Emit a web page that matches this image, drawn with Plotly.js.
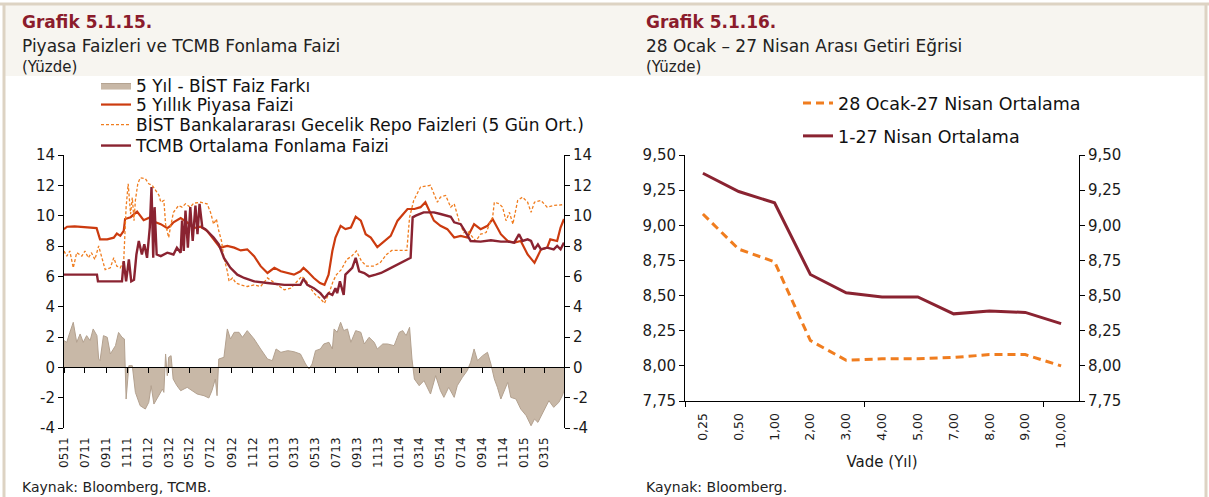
<!DOCTYPE html>
<html><head><meta charset="utf-8">
<script src="https://cdn.plot.ly/plotly-3.0.1.min.js"></script>
<style>html,body{margin:0;padding:0;background:#fff}#chart{width:1209px;height:497px}</style>
</head><body><div id="chart"></div>
<script>
// ---------- Grafik 5.1.15 data ----------
const spreadName = '5 Yıl - BİST Faiz Farkı';
const spreadDates = ['2011-05-01','2011-05-09','2011-05-18','2011-05-28','2011-06-07','2011-06-17','2011-06-26','2011-07-06','2011-07-16','2011-07-25','2011-08-05','2011-08-10','2011-08-14','2011-08-24','2011-09-04','2011-09-13','2011-09-28','2011-10-07','2011-10-17','2011-10-24','2011-10-29','2011-11-06','2011-11-16','2011-11-25','2011-12-09','2011-12-24','2012-01-03','2012-01-10','2012-01-18','2012-02-02','2012-02-12','2012-02-16','2012-02-21','2012-02-26','2012-03-01','2012-03-08','2012-03-14','2012-03-25','2012-04-05','2012-04-24','2012-05-08','2012-05-23','2012-06-12','2012-06-26','2012-07-05','2012-07-15','2012-07-20','2012-07-25','2012-08-09','2012-08-19','2012-08-28','2012-09-08','2012-09-22','2012-10-02','2012-10-16','2012-11-05','2012-11-24','2012-12-14','2012-12-28','2013-01-08','2013-01-22','2013-02-11','2013-03-01','2013-03-20','2013-04-04','2013-04-14','2013-04-23','2013-05-03','2013-05-17','2013-05-27','2013-06-11','2013-06-21','2013-06-26','2013-07-05','2013-07-15','2013-07-24','2013-08-04','2013-08-14','2013-08-28','2013-09-12','2013-09-22','2013-10-06','2013-10-21','2013-10-30','2013-11-15','2013-11-29','2013-12-18','2014-01-02','2014-01-12','2014-01-22','2014-02-01','2014-02-08','2014-02-15','2014-03-01','2014-03-15','2014-04-03','2014-04-18','2014-05-02','2014-05-12','2014-05-26','2014-06-11','2014-06-20','2014-07-05','2014-07-19','2014-07-29','2014-08-08','2014-08-18','2014-09-02','2014-09-16','2014-09-26','2014-10-06','2014-10-15','2014-10-25','2014-11-04','2014-11-14','2014-11-23','2014-12-08','2014-12-22','2015-01-07','2015-01-21','2015-01-31','2015-02-10','2015-02-24','2015-03-14','2015-03-28','2015-04-12','2015-04-22','2015-04-29'];
const spreadValues = [1.76,1.65,2.30,2.97,1.65,2.20,1.65,2.09,1.76,2.53,2.09,0.55,0.44,2.09,1.98,0.88,1.43,2.30,1.98,1.87,-2.09,0.11,0.11,-1.65,-2.53,-2.75,-2.31,-1.21,-2.42,-1.87,-1.43,-1.65,0.88,-0.55,0.66,0.77,-0.77,-1.21,-1.54,-1.32,-1.54,-1.76,-1.87,-2.02,-1.54,-0.77,-1.87,0.55,0.66,2.53,1.87,2.31,2.31,1.98,2.42,1.87,1.21,0.55,0.44,1.21,0.99,1.10,1.03,0.88,0.22,-0.11,0.22,1.10,1.21,1.54,1.65,1.21,2.53,2.31,2.97,2.42,2.53,1.65,2.42,2.31,1.54,1.98,1.65,1.21,1.54,1.54,1.43,2.31,2.42,2.09,2.64,0.55,-0.77,-1.21,-0.88,-1.76,-0.55,-1.54,-1.98,-1.32,-1.98,-1.21,-0.66,-0.22,0.33,1.21,0.44,0.77,0.99,0.22,-0.77,-1.32,-2.09,-1.54,-0.99,-1.98,-2.09,-2.75,-3.19,-3.85,-3.41,-3.63,-2.97,-2.20,-2.64,-2.31,-1.87,-1.43];

const yield5Name = '5 Yıllık Piyasa Faizi';
const yield5Dates = ['2011-05-01','2011-05-10','2011-06-01','2011-07-01','2011-08-04','2011-08-14','2011-09-04','2011-09-23','2011-10-02','2011-10-12','2011-10-22','2011-10-26','2011-11-11','2011-11-30','2011-12-09','2011-12-19','2012-01-08','2012-01-23','2012-02-07','2012-02-26','2012-03-06','2012-03-15','2012-04-05','2012-04-24','2012-05-13','2012-06-02','2012-06-21','2012-07-10','2012-07-29','2012-08-19','2012-09-08','2012-09-27','2012-10-16','2012-11-05','2012-11-24','2012-12-14','2013-01-03','2013-01-22','2013-02-11','2013-03-01','2013-03-20','2013-03-29','2013-04-09','2013-04-28','2013-05-16','2013-05-29','2013-06-10','2013-06-21','2013-06-30','2013-07-15','2013-07-29','2013-08-14','2013-08-28','2013-09-12','2013-09-26','2013-10-11','2013-10-30','2013-11-19','2013-12-08','2013-12-28','2014-01-12','2014-01-26','2014-02-15','2014-03-05','2014-03-19','2014-03-29','2014-04-13','2014-05-02','2014-05-22','2014-06-11','2014-06-30','2014-07-19','2014-08-08','2014-08-27','2014-09-16','2014-10-01','2014-10-25','2014-11-14','2014-12-03','2014-12-22','2015-01-11','2015-01-31','2015-02-10','2015-02-19','2015-03-09','2015-03-18','2015-04-07','2015-04-17','2015-04-27'];
const yield5Values = [9.11,9.27,9.30,9.25,9.18,8.44,8.44,8.55,8.82,8.67,9.00,9.78,9.90,10.27,10.00,9.70,9.90,9.56,9.44,9.18,9.33,9.56,9.84,9.56,9.18,9.27,9.00,8.44,7.89,8.00,7.89,7.71,7.78,7.33,6.67,6.22,6.56,6.33,6.22,6.11,6.33,6.56,6.33,5.89,5.56,5.44,6.11,7.67,8.56,9.33,9.11,9.22,9.93,9.67,8.78,8.56,7.93,8.33,8.67,9.67,10.11,10.44,10.44,10.56,10.89,10.44,9.67,9.33,9.11,8.56,8.67,8.56,9.44,9.11,9.33,9.78,8.78,8.33,8.22,8.33,7.44,6.89,7.33,7.78,7.89,8.44,8.33,9.22,9.78];

const bistName = 'BİST Bankalararası Gecelik Repo Faizleri (5 Gün Ort.)';
const bistDates = ['2011-05-01','2011-05-09','2011-05-18','2011-05-28','2011-06-07','2011-06-22','2011-07-01','2011-07-11','2011-07-20','2011-07-30','2011-08-10','2011-08-19','2011-08-29','2011-09-13','2011-09-23','2011-10-02','2011-10-12','2011-10-22','2011-10-29','2011-11-04','2011-11-11','2011-11-16','2011-11-21','2011-11-25','2011-12-02','2011-12-09','2011-12-24','2012-01-03','2012-01-13','2012-01-23','2012-02-02','2012-02-07','2012-02-16','2012-02-21','2012-03-01','2012-03-06','2012-03-15','2012-03-30','2012-04-09','2012-04-19','2012-05-03','2012-05-13','2012-06-02','2012-06-21','2012-07-01','2012-07-10','2012-07-18','2012-07-25','2012-08-02','2012-08-09','2012-08-19','2012-08-24','2012-09-03','2012-09-13','2012-09-27','2012-10-16','2012-11-05','2012-11-24','2012-12-14','2012-12-28','2013-01-12','2013-02-01','2013-02-20','2013-03-10','2013-03-24','2013-04-04','2013-04-18','2013-05-03','2013-05-16','2013-05-29','2013-06-13','2013-06-23','2013-07-03','2013-07-17','2013-08-02','2013-08-16','2013-08-30','2013-09-14','2013-09-29','2013-10-18','2013-11-07','2013-11-26','2013-12-11','2014-01-05','2014-01-24','2014-02-01','2014-02-13','2014-03-05','2014-04-03','2014-04-13','2014-04-23','2014-05-02','2014-05-17','2014-06-01','2014-06-11','2014-06-25','2014-07-09','2014-07-19','2014-08-03','2014-08-13','2014-08-27','2014-09-12','2014-09-26','2014-10-01','2014-10-06','2014-10-20','2014-10-30','2014-11-09','2014-11-19','2014-11-29','2014-12-13','2014-12-27','2015-01-11','2015-01-21','2015-01-31','2015-02-19','2015-03-09','2015-03-28','2015-04-27'];
const bistValues = [7.67,7.33,7.67,6.56,7.56,7.33,7.67,7.22,7.56,7.11,8.00,7.33,6.44,6.56,7.22,6.67,6.56,7.00,10.56,12.10,10.10,11.20,9.67,11.00,12.10,12.50,12.44,12.10,12.00,11.67,11.33,10.89,11.00,9.44,8.56,9.22,10.22,10.67,10.56,10.78,10.56,10.82,10.89,10.78,10.22,9.44,9.78,9.00,8.33,7.22,6.33,5.67,5.89,5.56,5.44,5.33,5.44,5.33,5.89,5.67,5.44,5.11,5.22,5.67,6.00,5.78,5.22,4.78,4.56,4.22,5.00,5.67,6.11,6.44,7.11,7.33,7.67,7.00,6.67,6.67,6.89,7.44,7.71,7.71,7.71,9.89,11.00,11.89,12.00,11.44,10.89,11.22,11.33,10.56,10.78,9.67,8.89,9.00,8.56,8.33,8.78,8.89,9.67,9.89,10.89,10.78,10.56,9.67,10.22,9.44,11.00,11.22,10.89,10.22,10.89,11.00,10.56,10.67,10.73];

const tcmbName = 'TCMB Ortalama Fonlama Faizi';
const tcmbDates = ['2011-05-01','2011-08-05','2011-08-08','2011-10-17','2011-10-22','2011-10-29','2011-11-06','2011-11-13','2011-11-21','2011-11-28','2011-12-05','2011-12-14','2011-12-21','2011-12-29','2012-01-06','2012-01-11','2012-01-16','2012-01-20','2012-01-26','2012-02-07','2012-02-26','2012-03-15','2012-03-25','2012-04-05','2012-04-09','2012-04-14','2012-04-19','2012-04-26','2012-05-03','2012-05-10','2012-05-18','2012-05-24','2012-05-30','2012-06-07','2012-06-16','2012-06-26','2012-07-10','2012-07-25','2012-08-09','2012-08-28','2012-09-17','2012-10-07','2012-11-05','2012-12-14','2013-02-01','2013-03-20','2013-03-29','2013-04-09','2013-04-28','2013-05-17','2013-05-29','2013-06-10','2013-06-21','2013-06-30','2013-07-05','2013-07-13','2013-07-19','2013-07-24','2013-07-29','2013-08-09','2013-08-18','2013-08-28','2013-09-07','2013-09-22','2013-10-06','2013-10-25','2013-11-10','2013-11-29','2013-12-18','2014-01-07','2014-01-26','2014-02-04','2014-02-10','2014-02-19','2014-03-14','2014-04-13','2014-05-02','2014-05-22','2014-06-01','2014-06-11','2014-06-30','2014-07-19','2014-07-29','2014-08-27','2014-09-26','2014-10-25','2014-11-14','2014-12-03','2014-12-17','2014-12-27','2015-01-11','2015-01-21','2015-01-31','2015-02-10','2015-02-19','2015-03-09','2015-03-28','2015-04-07','2015-04-17','2015-04-27'];
const tcmbValues = [6.11,6.11,5.67,5.67,7.00,5.67,7.11,5.67,5.78,7.44,8.33,7.44,8.11,7.22,9.22,11.89,7.22,10.56,7.44,7.33,7.56,7.44,7.89,7.56,9.67,7.67,10.33,7.89,10.56,8.33,10.67,8.78,10.78,9.22,9.11,8.89,8.56,8.11,7.22,6.56,6.11,5.89,5.67,5.56,5.44,5.44,5.84,5.44,5.22,4.89,4.56,4.89,4.78,5.22,4.89,5.67,5.11,4.78,6.11,6.33,6.56,7.22,6.33,6.22,6.00,6.11,6.22,6.44,6.67,6.89,7.11,7.22,9.89,10.00,10.22,10.22,10.11,10.00,9.93,9.56,9.44,8.73,8.33,8.29,8.38,8.29,8.29,8.22,8.78,8.33,8.44,8.33,7.78,8.11,7.78,7.89,7.78,8.00,7.78,8.22];

const leftTickVals = [-4,-2,0,2,4,6,8,10,12,14];
const leftTickText = ['-4','-2','0','2','4','6','8','10','12','14'];

// ---------- Grafik 5.1.16 data ----------
const maturities = ['0,25','0,50','1,00','2,00','3,00','4,00','5,00','7,00','8,00','9,00','10,00'];
const avgJanAprName = '28 Ocak-27 Nisan Ortalama';
const avgJanApr = [9.08,8.83,8.74,8.18,8.04,8.05,8.05,8.06,8.08,8.08,8.00];
const avgAprName = '1-27 Nisan Ortalama';
const avgApr = [9.37,9.24,9.16,8.65,8.52,8.49,8.49,8.37,8.39,8.38,8.30];
// tick marks every 5 categories, on the category boundaries (category-index units)
const maturityTickMarks = [-0.5, 4.5, 9.5];

// ---------- layout helpers ----------
const W = 1209, H = 497;
const px = x => x / W;
const py = y => 1 - y / H;
const FONT = 'DejaVu Sans, sans-serif';
const C_SPREAD = '#c8b8a7', C_SPREAD_L = '#b3a18f';
const C_5Y = '#cc3b0f', C_BIST = '#f07d1f', C_TCMB = '#8a2331';

const traces = [
  {type:'scatter', mode:'lines', name:spreadName, x:spreadDates, y:spreadValues, fill:'tozeroy',
   fillcolor:C_SPREAD, line:{color:C_SPREAD_L, width:1}, xaxis:'x', yaxis:'y', legend:'legend'},
  {type:'scatter', mode:'lines', name:yield5Name, x:yield5Dates, y:yield5Values,
   line:{color:C_5Y, width:2.2}, xaxis:'x', yaxis:'y', legend:'legend2'},
  {type:'scatter', mode:'lines', name:bistName, x:bistDates, y:bistValues,
   line:{color:C_BIST, width:1.3, dash:'3px,2px'}, xaxis:'x', yaxis:'y', legend:'legend3'},
  {type:'scatter', mode:'lines', name:tcmbName, x:tcmbDates, y:tcmbValues,
   line:{color:C_TCMB, width:2.4}, xaxis:'x2', yaxis:'y2', legend:'legend4'},
  {type:'scatter', mode:'lines', name:avgJanAprName, x:maturities, y:avgJanApr,
   line:{color:C_BIST, width:3, dash:'8px,5px'}, xaxis:'x3', yaxis:'y3', legend:'legend5'},
  {type:'scatter', mode:'lines', name:avgAprName, x:maturities, y:avgApr,
   line:{color:C_TCMB, width:3}, xaxis:'x4', yaxis:'y4', legend:'legend6'}
];

const xRange = ['2011-05-01','2015-04-27'];
const axisFont = {family:FONT, size:15, color:'#1a1a1a'};
function leg(xPix, yPix, size) {
  return {x:px(xPix), y:py(yPix), xanchor:'left', yanchor:'middle', bgcolor:'rgba(0,0,0,0)',
    font:{family:FONT, size:size, color:'#111'}, borderwidth:0};
}
function note(text, xPix, yPix, size, color) {
  return {text:text, x:px(xPix), y:py(yPix), xref:'paper', yref:'paper', xanchor:'left', yanchor:'middle',
    showarrow:false, font:{family:FONT, size:size, color:color || '#222'}};
}

const layout = {
  width:W, height:H, margin:{l:0,r:0,t:0,b:0},
  paper_bgcolor:'#ffffff', plot_bgcolor:'rgba(0,0,0,0)',
  separators:',.', showlegend:true, hovermode:false,
  xaxis:{domain:[px(64),px(564)], type:'date', range:xRange, anchor:'y', showline:false, ticks:'',
    tick0:'2011-05-01', dtick:'M2', tickformat:'%m%y', tickangle:-90, showgrid:false, zeroline:false,
    ticklabelstandoff:6, tickfont:{family:FONT, size:12, color:'#1a1a1a'}},
  xaxis2:{overlaying:'x', type:'date', range:xRange, anchor:'free', position:py(367.4), side:'bottom',
    showline:true, linecolor:'#000', linewidth:1, ticks:'outside', ticklen:5, tickcolor:'#000',
    tick0:'2011-05-01', dtick:'M2', showticklabels:false, showgrid:false, zeroline:false},
  yaxis:{domain:[py(428),py(155)], range:[-4,14], tickmode:'array', tickvals:leftTickVals, ticktext:leftTickText,
    anchor:'x', showline:true, linecolor:'#000',
    ticks:'outside', ticklen:5, tickcolor:'#000', showgrid:false, zeroline:false, tickfont:axisFont},
  yaxis2:{overlaying:'y', side:'right', anchor:'x', range:[-4,14], tickmode:'array', tickvals:leftTickVals, ticktext:leftTickText,
    showline:true, linecolor:'#000',
    ticks:'outside', ticklen:5, tickcolor:'#000', showgrid:false, zeroline:false, tickfont:axisFont},
  xaxis3:{domain:[px(685),px(1079)], type:'category', range:[-0.5,10.5], anchor:'y3', showline:true,
    linecolor:'#000', ticks:'', tickangle:-90, showgrid:false, zeroline:false, ticklabelstandoff:6,
    tickfont:{family:FONT, size:12.5, color:'#1a1a1a'},
    title:{text:'Vade (Yıl)', font:{family:FONT, size:15, color:'#1a1a1a'}, standoff:8}},
  xaxis4:{overlaying:'x3', anchor:'y3', type:'category', range:[-0.5,10.5],
    tickmode:'array', tickvals:maturityTickMarks,
    ticks:'outside', ticklen:5, tickcolor:'#000', showticklabels:false, showline:false, showgrid:false, zeroline:false},
  yaxis3:{domain:[py(401),py(155)], range:[7.75,9.5], dtick:0.25, tickformat:'.2f', anchor:'x3',
    showline:true, linecolor:'#000', ticks:'outside', ticklen:5, tickcolor:'#000', showgrid:false, zeroline:false, tickfont:axisFont},
  yaxis4:{overlaying:'y3', side:'right', anchor:'x3', range:[7.75,9.5], dtick:0.25, tickformat:'.2f',
    showline:true, linecolor:'#000', ticks:'outside', ticklen:5, tickcolor:'#000', showgrid:false, zeroline:false, tickfont:axisFont},
  legend: leg(96, 86, 17),
  legend2: leg(96, 105, 17),
  legend3: leg(96, 125, 17),
  legend4: leg(96, 146, 17),
  legend5: leg(798, 103, 17.5),
  legend6: leg(798, 136, 17.5),
  shapes:[
    {type:'rect', xref:'paper', yref:'paper', x0:px(5), x1:px(1205), y0:py(76), y1:py(5), fillcolor:'#f7f5f0', line:{width:0}, layer:'below'},
    {type:'line', xref:'paper', yref:'paper', x0:0, x1:1, y0:py(4), y1:py(4), line:{color:'#ddd3c3', width:3}},
    {type:'line', xref:'paper', yref:'paper', x0:px(4), x1:px(4), y0:0, y1:py(4), line:{color:'#ddd3c3', width:3}},
    {type:'line', xref:'paper', yref:'paper', x0:px(1206), x1:px(1206), y0:0, y1:py(4), line:{color:'#ddd3c3', width:3}}
  ],
  annotations:[
    note('<b>Grafik 5.1.15.</b>', 20, 22, 17, '#8b1c2c'),
    note('Piyasa Faizleri ve TCMB Fonlama Faizi', 20, 46, 17),
    note('(Yüzde)', 20, 67, 15),
    note('<b>Grafik 5.1.16.</b>', 644, 22, 17, '#8b1c2c'),
    note('28 Ocak – 27 Nisan Arası Getiri Eğrisi', 644, 46, 17),
    note('(Yüzde)', 644, 67, 15),
    note('Kaynak: Bloomberg, TCMB.', 20, 487, 14),
    note('Kaynak: Bloomberg.', 644, 487, 14)
  ]
};

Plotly.newPlot('chart', traces, layout, {displayModeBar:false, staticPlot:true});
</script></body></html>
